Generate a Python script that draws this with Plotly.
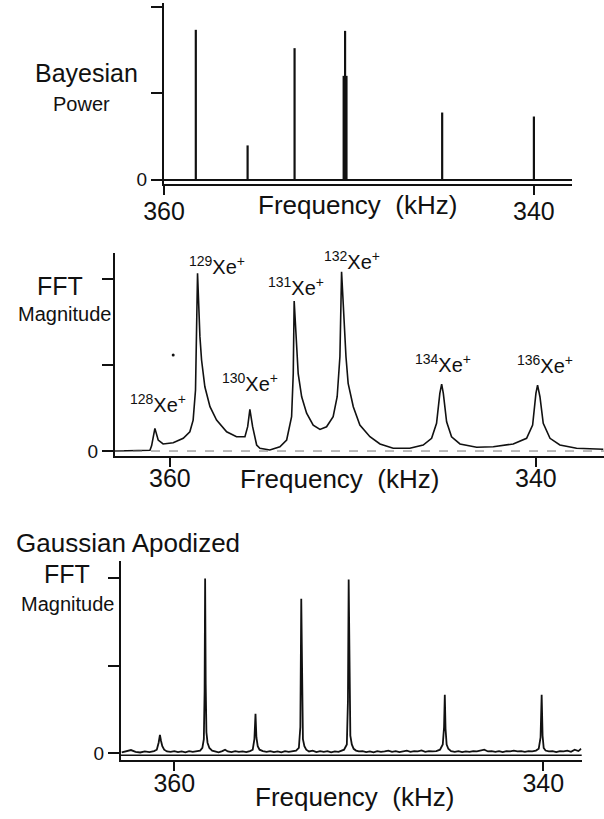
import plotly.graph_objects as go

W, H = 604, 819

# ---------------- data ----------------
isotope_labels = ["<sup>128</sup>Xe<sup>+</sup>", "<sup>129</sup>Xe<sup>+</sup>", "<sup>130</sup>Xe<sup>+</sup>",
                  "<sup>131</sup>Xe<sup>+</sup>", "<sup>132</sup>Xe<sup>+</sup>", "<sup>134</sup>Xe<sup>+</sup>",
                  "<sup>136</sup>Xe<sup>+</sup>"]

# Top panel: Bayesian power (sticks)
bay_freq = [358.28, 355.48, 352.94, 350.21, 344.96, 340.00]
bay_power = [0.866, 0.198, 0.760, 0.860, 0.388, 0.365]
# broadened lower part of the 132 line
bay_broad_freq = [350.21]
bay_broad_power = [0.60]

# Middle panel: FFT magnitude
fft_freq = [363.01, 362.90, 361.60, 361.09, 361.00, 360.82, 360.64, 360.37, 359.82, 359.27,
            358.91, 358.73, 358.60, 358.49, 358.36, 358.27, 358.09, 357.81, 357.45, 356.90,
            356.36, 355.90, 355.75, 355.63, 355.48, 355.26, 355.08, 354.54, 353.99, 353.62,
            353.35, 353.26, 353.21, 353.11, 352.99, 352.80, 352.53, 352.17, 351.80, 351.44,
            351.08, 350.86, 350.71, 350.62, 350.49, 350.38, 350.26, 349.98, 349.62, 349.07,
            348.52, 347.80, 346.89, 346.16, 345.70, 345.43, 345.25, 345.15, 345.06, 344.88,
            344.61, 344.15, 343.24, 342.33, 341.24, 340.51, 340.18, 340.00, 339.91, 339.78,
            339.60, 339.23, 338.69, 337.78, 336.32]
fft_mag = [0.0, 0.0, 0.002, 0.004, 0.03, 0.132, 0.064, 0.041, 0.048, 0.074,
           0.112, 0.18, 0.355, 1.035, 0.666, 0.53, 0.374, 0.258, 0.18, 0.112,
           0.083, 0.083, 0.142, 0.243, 0.142, 0.035, 0.016, 0.006, 0.025, 0.064,
           0.2, 0.45, 0.874, 0.646, 0.45, 0.316, 0.22, 0.151, 0.126, 0.141,
           0.2, 0.316, 0.55, 1.044, 0.744, 0.55, 0.394, 0.258, 0.151, 0.083,
           0.041, 0.016, 0.016, 0.035, 0.074, 0.161, 0.336, 0.39, 0.336, 0.17,
           0.083, 0.041, 0.022, 0.025, 0.041, 0.074, 0.151, 0.336, 0.384, 0.316,
           0.161, 0.074, 0.035, 0.016, 0.01]
stray_dot_freq = [359.82]
stray_dot_mag = [0.559]

# Bottom panel: Gaussian apodized FFT magnitude
gauss_freq = [362.85, 362.6, 362.35, 362.1, 361.85, 361.6, 361.35, 361.1, 360.95, 360.85,
              360.78, 360.72, 360.65, 360.55, 360.4, 360.2, 360.0, 359.8, 359.6, 359.4,
              359.2, 359.0, 358.8, 358.6, 358.48, 358.4, 358.36, 358.33, 358.30, 358.26,
              358.2, 358.1, 357.95, 357.8, 357.6, 357.4, 357.25, 357.1, 356.9, 356.7,
              356.5, 356.3, 356.1, 355.9, 355.75, 355.66, 355.60, 355.55, 355.48, 355.38,
              355.2, 355.0, 354.8, 354.6, 354.4, 354.2, 354.0, 353.8, 353.6, 353.4,
              353.25, 353.17, 353.12, 353.08, 353.03, 352.95, 352.85, 352.7, 352.5, 352.3,
              352.1, 351.9, 351.7, 351.5, 351.3, 351.1, 350.95, 350.8, 350.65, 350.59,
              350.55, 350.51, 350.46, 350.38, 350.28, 350.15, 350.0, 349.8, 349.6, 349.4,
              349.2, 349.0, 348.8, 348.6, 348.4, 348.2, 348.0, 347.8, 347.6, 347.4,
              347.2, 347.0, 346.8, 346.6, 346.4, 346.2, 346.0, 345.8, 345.6, 345.45,
              345.38, 345.34, 345.30, 345.24, 345.15, 345.0, 344.8, 344.6, 344.4, 344.2,
              344.0, 343.8, 343.6, 343.4, 343.2, 343.0, 342.8, 342.6, 342.4, 342.2,
              342.0, 341.8, 341.6, 341.4, 341.2, 341.0, 340.8, 340.6, 340.4, 340.25,
              340.15, 340.09, 340.04, 339.98, 339.88, 339.7, 339.5, 339.3, 339.1, 338.9,
              338.7, 338.5, 338.3, 338.1, 337.95]
gauss_mag = [0.005, 0.012, 0.018, 0.008, 0.004, 0.01, 0.006, 0.012, 0.02, 0.06,
             0.105, 0.07, 0.04, 0.02, 0.01, 0.008, 0.012, 0.006, 0.01, 0.005,
             0.012, 0.008, 0.01, 0.015, 0.03, 0.08, 0.35, 1.0, 0.4, 0.12,
             0.06, 0.03, 0.015, 0.01, 0.005, 0.012, 0.02, 0.01, 0.006, 0.012,
             0.008, 0.01, 0.006, 0.012, 0.02, 0.08, 0.225, 0.09, 0.04, 0.02,
             0.012, 0.008, 0.012, 0.006, 0.01, 0.005, 0.012, 0.008, 0.01, 0.015,
             0.03, 0.15, 0.884, 0.3, 0.08, 0.04, 0.02, 0.01, 0.015, 0.006,
             0.012, 0.008, 0.012, 0.005, 0.01, 0.008, 0.012, 0.02, 0.05, 0.3,
             0.994, 0.35, 0.1, 0.05, 0.025, 0.015, 0.01, 0.012, 0.006, 0.01,
             0.005, 0.012, 0.008, 0.01, 0.015, 0.008, 0.012, 0.006, 0.01, 0.014,
             0.008, 0.012, 0.01, 0.016, 0.008, 0.012, 0.01, 0.012, 0.02, 0.05,
             0.15, 0.334, 0.14, 0.05, 0.025, 0.012, 0.008, 0.012, 0.006, 0.01,
             0.008, 0.012, 0.01, 0.016, 0.02, 0.01, 0.012, 0.008, 0.012, 0.006,
             0.012, 0.01, 0.015, 0.01, 0.012, 0.008, 0.012, 0.01, 0.015, 0.025,
             0.09, 0.334, 0.1, 0.03, 0.015, 0.01, 0.012, 0.006, 0.012, 0.01,
             0.015, 0.008, 0.02, 0.012, 0.025]

x_ticks = [360, 340]
x_ticktext = ["360", "340"]
y_label_ticks = [0]
y_label_text = ["0"]
y_extra_ticks = [0.5, 1.0]

# ---------------- figure ----------------
FONT = "Liberation Sans, Arial, Helvetica, sans-serif"
INK = "#111111"


def px_x(p):
    return p / W


def px_y(p):
    return 1 - p / H


fig = go.Figure()

# top: sticks built from arrays
stem_x, stem_y = [], []
for f, p in zip(bay_freq, bay_power):
    stem_x += [f, f, None]
    stem_y += [0, p, None]
fig.add_trace(go.Scatter(x=stem_x, y=stem_y, mode="lines", line=dict(color=INK, width=2.2),
                         xaxis="x", yaxis="y", showlegend=False, hoverinfo="skip"))
bx, by = [], []
for f, p in zip(bay_broad_freq, bay_broad_power):
    bx += [f, f, None]
    by += [0, p, None]
fig.add_trace(go.Scatter(x=bx, y=by, mode="lines", line=dict(color=INK, width=5),
                         xaxis="x", yaxis="y", showlegend=False, hoverinfo="skip"))

# middle
fig.add_trace(go.Scatter(x=fft_freq, y=fft_mag, mode="lines", line=dict(color=INK, width=1.6),
                         xaxis="x2", yaxis="y2", showlegend=False))
fig.add_trace(go.Scatter(x=stray_dot_freq, y=stray_dot_mag, mode="markers",
                         marker=dict(color=INK, size=3), xaxis="x2", yaxis="y2", showlegend=False))

# bottom
fig.add_trace(go.Scatter(x=gauss_freq, y=gauss_mag, mode="lines", line=dict(color=INK, width=1.8),
                         xaxis="x3", yaxis="y3", showlegend=False))

xcommon = dict(tickvals=x_ticks, ticktext=x_ticktext, ticks="outside", ticklen=9, tickwidth=1.5,
               tickcolor=INK, showline=True, linecolor=INK, linewidth=2, showgrid=False,
               zeroline=False, automargin=False, tickfont=dict(size=25, family=FONT, color=INK))
ycommon = dict(tickvals=y_label_ticks, ticktext=y_label_text, ticks="outside", ticklen=11, tickwidth=2,
               tickcolor=INK, showline=True, linecolor=INK, linewidth=2, showgrid=False,
               minor=dict(tickvals=y_extra_ticks, ticks="outside", ticklen=11, tickwidth=2,
                          tickcolor=INK, showgrid=False),
               automargin=False, tickfont=dict(size=19, family=FONT, color=INK))

fig.update_layout(
    width=W, height=H, margin=dict(l=0, r=0, t=0, b=0, pad=0, autoexpand=False),
    paper_bgcolor="white", plot_bgcolor="white", showlegend=False,
    font=dict(family=FONT, color=INK),
    xaxis=dict(domain=[px_x(164), px_x(572)], range=[360.0, 337.94], anchor="y",
               ticklabelstandoff=-5, **xcommon),
    yaxis=dict(domain=[px_y(184), px_y(3)], range=[-0.025, 1.021], anchor="x",
               zeroline=True, zerolinecolor=INK, zerolinewidth=2, **ycommon),
    xaxis2=dict(domain=[px_x(115), 1.0], range=[363.0, 336.28], anchor="y2",
                ticklabelstandoff=-10, **xcommon),
    yaxis2=dict(domain=[px_y(456), px_y(253)], range=[-0.029, 1.153], anchor="x2",
                zeroline=False, **ycommon),
    xaxis3=dict(domain=[px_x(121), px_x(581.7)], range=[362.89, 337.92], anchor="y3",
                ticklabelstandoff=-9, **xcommon),
    yaxis3=dict(domain=[px_y(760), px_y(561)], range=[-0.039, 1.10], anchor="x3",
                zeroline=False, **ycommon),
)

shapes = [
    dict(type="line", xref="x2 domain", yref="y2", x0=0, x1=1, y0=0, y1=0,
         line=dict(color="#777777", width=1, dash="dash")),
    dict(type="line", xref="x3 domain", yref="y3", x0=0, x1=1, y0=-0.012, y1=-0.012,
         line=dict(color=INK, width=1.5)),
]
fig.update_layout(shapes=shapes)

ann = []


def text(s, x, y, size):
    ann.append(dict(text=s, x=px_x(x), y=px_y(y), xref="paper", yref="paper",
                    showarrow=False, xanchor="center", yanchor="middle",
                    font=dict(size=size, family=FONT, color=INK)))


# panel labels
text("Bayesian", 87, 73, 25)
text("Power", 81, 104, 20)
text("Frequency  (kHz)", 357, 205, 26)

text("FFT", 60, 286, 25)
text("Magnitude", 64, 314, 20)
text("Frequency  (kHz)", 339, 479, 26)

text("Gaussian Apodized", 128, 543, 26)
text("FFT", 67, 574, 25)
text("Magnitude", 67, 604, 20)
text("Frequency  (kHz)", 355, 797, 26)

# isotope labels in the middle panel
iso_pos = [(158, 403), (217, 266), (250, 382), (296, 286), (352, 260), (443, 363), (545, 364)]
for lab, (x, y) in zip(isotope_labels, iso_pos):
    text(lab, x, y, 20)

fig.update_layout(annotations=ann)

fig.write_html("out.html", config={"displayModeBar": False},
               post_script="document.body.style.margin='0';")
